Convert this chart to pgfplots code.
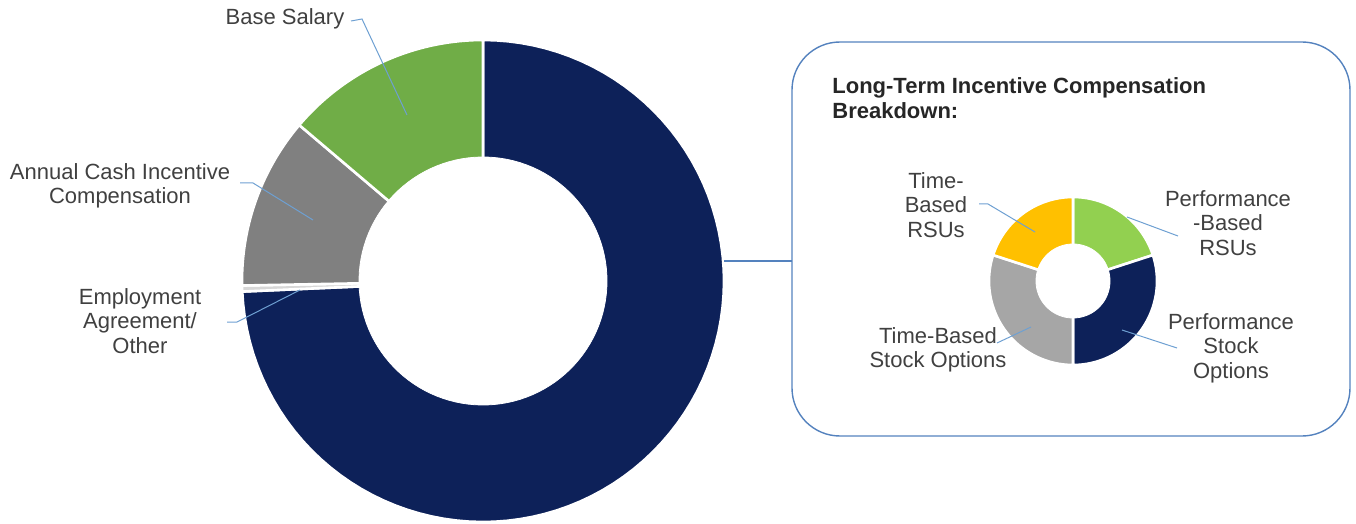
\documentclass[border=0pt]{standalone}
\usepackage{pgfplots}
\pgfplotsset{compat=1.18}
\usepackage{fontspec}
\setmainfont{Liberation Sans}
\definecolor{navy}{RGB}{13,33,89}
\definecolor{mgreen}{RGB}{112,173,71}
\definecolor{mgrey}{RGB}{128,128,128}
\definecolor{lgreen}{RGB}{146,208,80}
\definecolor{lgrey}{RGB}{166,166,166}
\definecolor{myellow}{RGB}{255,192,0}
\definecolor{other}{RGB}{215,215,215}
\definecolor{leader}{RGB}{110,160,210}
\definecolor{boxblue}{RGB}{84,130,190}
\definecolor{txt}{RGB}{64,64,64}
\tikzset{lbl/.style={font=\fontsize{11}{12.3}\selectfont, text=txt, align=center, inner sep=0pt}}
% donut: cx, cy, outer R, inner r, list share/colour (clockwise from 12 o'clock)
\newcommand{\donut}[5]{%
  \xdef\cum{90}%
  \foreach \share/\col in {#5} {%
    \pgfmathsetmacro\a{\cum}%
    \pgfmathsetmacro\b{\cum-3.6*\share}%
    \edef\doit{\noexpand\addplot[fill=\col, draw=white, line width=1.3pt, domain=\b:\a, samples=90]
      ({#1+#3*cos(x)},{#2-#3*sin(x)}) -- (axis cs:#1,#2) -- cycle;}%
    \doit
    \xdef\cum{\b}%
  }%
  \addplot[fill=white, draw=white, domain=0:360, samples=120] ({#1+#4*cos(x)},{#2-#4*sin(x)}) -- cycle;
}
\begin{document}
\begin{tikzpicture}
\begin{axis}[
  x=0.5pt, y=0.5pt, xmin=0, xmax=1356, ymin=0, ymax=524, y dir=reverse,
  hide axis, clip=false,
]
\path (axis cs:0,0) rectangle (axis cs:1356,524);
% main donut: Long-Term Incentive, Employment Agreement/Other, Annual Cash, Base Salary (%)
\donut{483}{281}{241}{124}{74.3/navy, 0.4/other, 11.5/mgrey, 13.8/mgreen}
% inset donut: Perf RSUs, Perf Stock Options, Time Stock Options, Time RSUs (%)
\donut{1073}{281}{84}{37}{20/lgreen, 30/navy, 30/lgrey, 20/myellow}
% box and connector
\addplot[draw=boxblue, line width=0.7pt, rounded corners=24pt] coordinates {(792,42) (1350,42) (1350,436) (792,436)} -- cycle;
\addplot[draw=boxblue, line width=0.7pt] coordinates {(724,261) (792,261)};
% leader lines
\addplot[leader, line width=0.5pt] coordinates {(351,21) (362,19) (407,115)};
\addplot[leader, line width=0.5pt] coordinates {(240,183) (253,183) (313,220)};
\addplot[leader, line width=0.5pt] coordinates {(227,322) (237,322) (300,290)};
\addplot[leader, line width=0.5pt] coordinates {(979,204) (988,204) (1035,232)};
\addplot[leader, line width=0.5pt] coordinates {(1127,217) (1178,236)};
\addplot[leader, line width=0.5pt] coordinates {(997,343) (1031,327)};
\addplot[leader, line width=0.5pt] coordinates {(1122,330) (1177,348)};
% labels
\node[lbl] at (axis cs:285,19) {Base Salary};
\node[lbl] at (axis cs:120,186) {Annual Cash Incentive\\Compensation};
\node[lbl] at (axis cs:140,321) {Employment\\Agreement/\\Other};
\node[lbl] at (axis cs:936,205) {Time-\\Based\\RSUs};
\node[lbl] at (axis cs:1228,223) {Performance\\-Based\\RSUs};
\node[lbl] at (axis cs:938,350) {Time-Based\\Stock Options};
\node[lbl] at (axis cs:1231,348) {Performance\\Stock\\Options};
\node[lbl, anchor=west, align=left, text=black!85, font=\fontsize{11}{12.3}\selectfont\bfseries] at (axis cs:832,98) {Long-Term Incentive Compensation\\Breakdown:};
\end{axis}
\end{tikzpicture}
\end{document}
